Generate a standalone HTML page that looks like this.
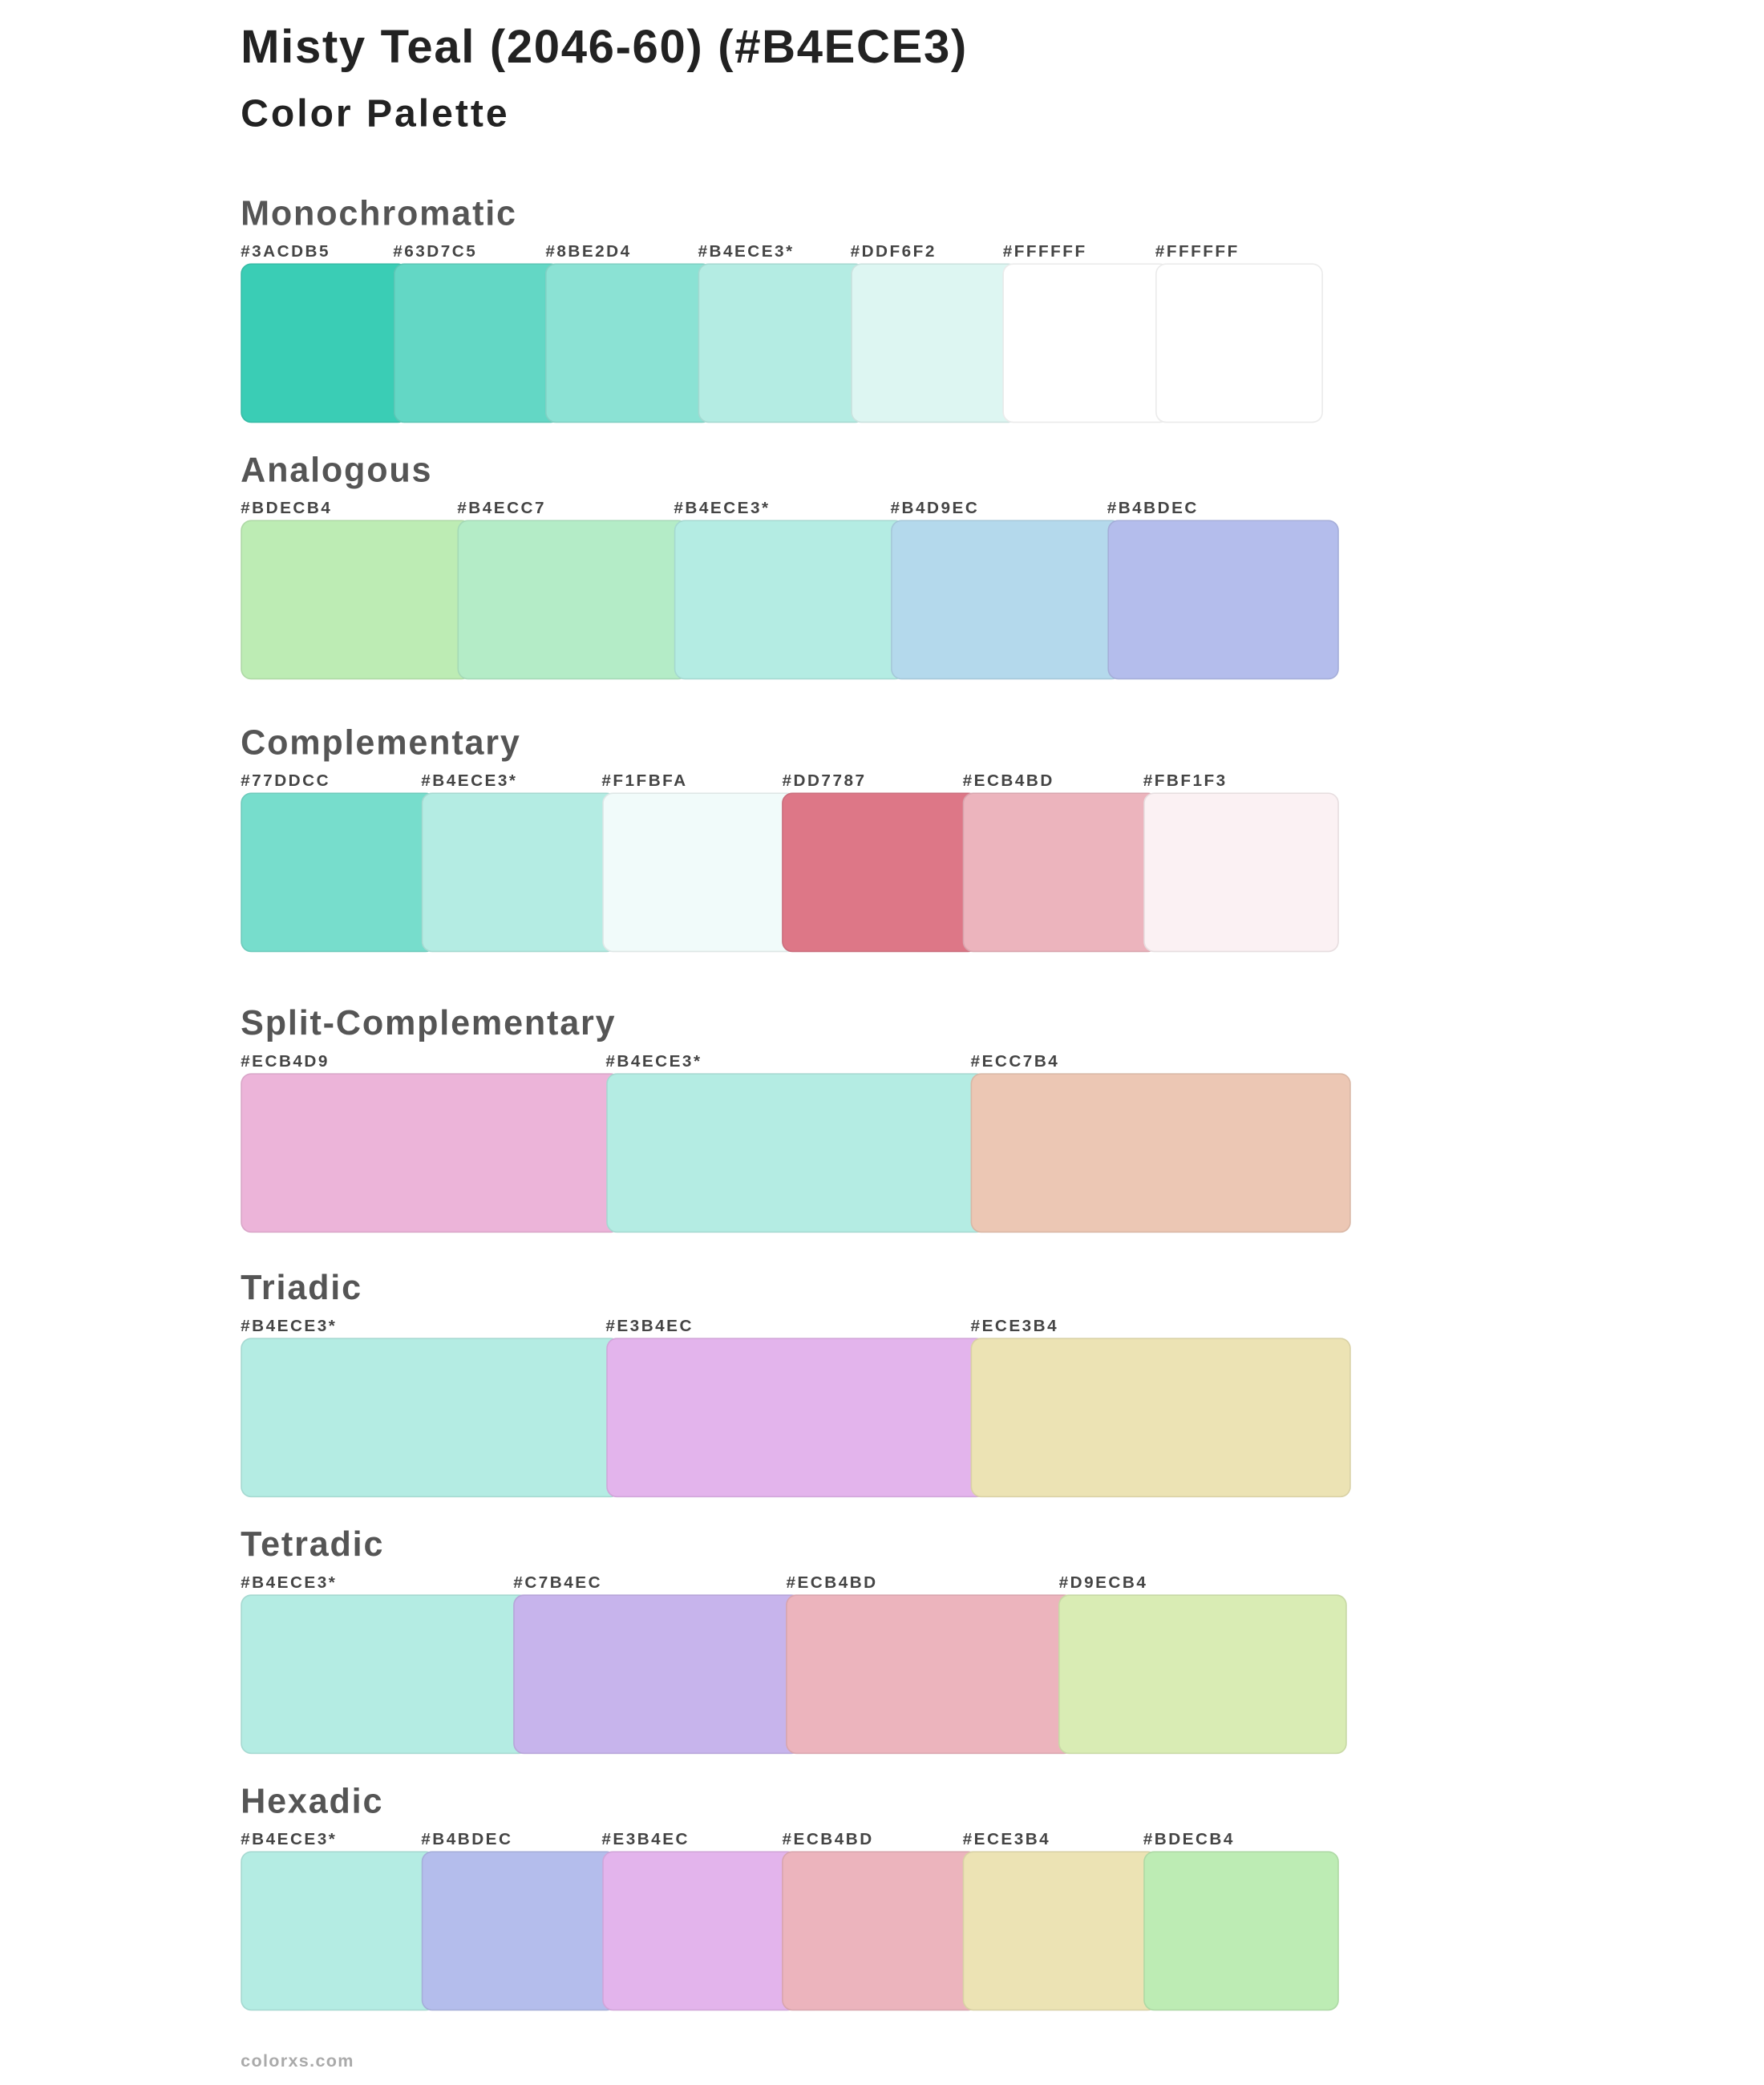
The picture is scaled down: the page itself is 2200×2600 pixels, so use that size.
<!DOCTYPE html>
<html><head><meta charset="utf-8">
<style>
html,body{margin:0;padding:0;background:#fff;}
body{width:2200px;height:2600px;overflow:hidden;position:relative;}
#stage{position:absolute;left:0;top:0;width:1327px;height:1568px;transform:scale(1.6583);transform-origin:0 0;font-family:"Liberation Sans",sans-serif;}
.t{position:absolute;white-space:nowrap;font-weight:bold;}
.sw{position:absolute;border-radius:8px;box-sizing:border-box;border:1px solid rgba(0,0,0,0.08);}
.lb{position:absolute;font-size:12.5px;font-weight:bold;color:#444;line-height:13px;letter-spacing:1.5px;white-space:nowrap;}
</style></head>
<body>
<div id="stage">
<div class="t" style="left:181px;top:17px;font-size:35px;line-height:38px;color:#222;letter-spacing:1.0px;">Misty Teal (2046-60) (#B4ECE3)</div>
<div class="t" style="left:181px;top:70px;font-size:29px;line-height:32px;color:#222;letter-spacing:1.8px;">Color Palette</div>
<div class="t" style="left:181px;top:1542px;font-size:13px;line-height:16px;color:#aaa;letter-spacing:0.8px;">colorxs.com</div>
</div>
<script>
const sectionNames = ["Monochromatic","Analogous","Complementary","Split-Complementary","Triadic","Tetradic","Hexadic"];
const sectionColors = [
 ["3ACDB5","63D7C5","8BE2D4","B4ECE3*","DDF6F2","FFFFFF","FFFFFF"],
 ["BDECB4","B4ECC7","B4ECE3*","B4D9EC","B4BDEC"],
 ["77DDCC","B4ECE3*","F1FBFA","DD7787","ECB4BD","FBF1F3"],
 ["ECB4D9","B4ECE3*","ECC7B4"],
 ["B4ECE3*","E3B4EC","ECE3B4"],
 ["B4ECE3*","C7B4EC","ECB4BD","D9ECB4"],
 ["B4ECE3*","B4BDEC","E3B4EC","ECB4BD","ECE3B4","BDECB4"]
];
const sectionTops = [147,340,545,756,955,1148,1341];
const sectionRight = [995,1007,1007,1016,1016,1013,1007];
const stage = document.getElementById('stage');
sectionNames.forEach((name, s) => {
  const top = sectionTops[s];
  const h = document.createElement('div');
  h.className = 't';
  h.style.cssText = `left:181px;top:${top}px;font-size:26px;line-height:27px;color:#555;letter-spacing:1.1px;`;
  h.textContent = name;
  
  
  stage.appendChild(h);
  const cols = sectionColors[s];
  const n = cols.length;
  const left = 181, right = sectionRight[s];
  const overlap = 11.5;
  const step = (right - left - overlap) / n;
  const w = step + overlap;
  cols.forEach((c, i) => {
    const x = left + i * step;
    const lab = document.createElement('div');
    lab.className = 'lb';
    lab.style.left = x + 'px';
    lab.style.top = (top + 36) + 'px';
    lab.textContent = '#' + c;
    
    
    stage.appendChild(lab);
    const sw = document.createElement('div');
    sw.className = 'sw';
    sw.style.left = x + 'px';
    sw.style.top = (top + 51) + 'px';
    sw.style.width = w + 'px';
    sw.style.height = '120px';
    sw.style.background = '#' + c.replace('*', '');
    
    
    stage.appendChild(sw);
  });
});
</script>
</body></html>
